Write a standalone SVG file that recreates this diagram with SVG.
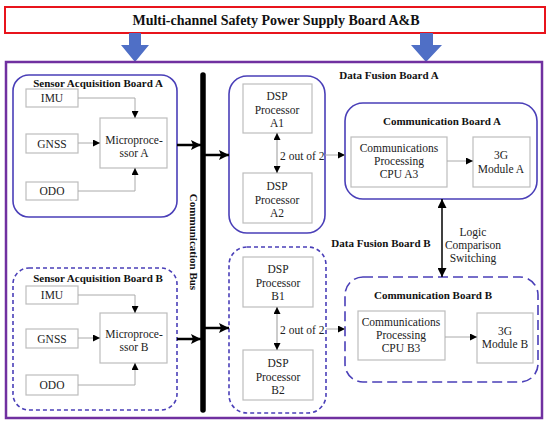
<svg xmlns="http://www.w3.org/2000/svg" width="550" height="427" viewBox="0 0 550 427" font-family="'Liberation Serif', 'Times New Roman', Times, serif">
<defs>
<marker id="ah" viewBox="0 0 10 10" refX="10" refY="5" markerWidth="7" markerHeight="7" markerUnits="userSpaceOnUse" orient="auto-start-reverse"><path d="M0,0 L10,5 L0,10 z" fill="#000"/></marker>
<marker id="ahb" viewBox="0 0 10 10" refX="10" refY="5" markerWidth="10" markerHeight="10" markerUnits="userSpaceOnUse" orient="auto"><path d="M0,0 L10,5 L0,10 L2,5 z" fill="#000"/></marker>
<marker id="ahd" viewBox="0 0 10 10" refX="10" refY="5" markerWidth="9" markerHeight="9" markerUnits="userSpaceOnUse" orient="auto-start-reverse"><path d="M0,0 L10,5 L0,10 z" fill="#000"/></marker>
</defs>
<style>
text{fill:#222;}
.t{font-size:11.5px;text-anchor:middle;}
.b{font-size:11px;font-weight:bold;text-anchor:middle;fill:#111;}
.box{fill:#fff;stroke:#bdbdbd;stroke-width:1.2;}
.brd{fill:none;stroke:#4a3fb8;stroke-width:1.6;}
.dsh{stroke-dasharray:4 3;}
.dsh2{stroke-dasharray:10 5;}
.c{fill:none;stroke:#aaa;stroke-width:1;marker-end:url(#ah);}
.cd{fill:none;stroke:#999;stroke-width:1;marker-start:url(#ah);marker-end:url(#ah);}
.k{fill:none;stroke:#000;stroke-width:2.5;marker-end:url(#ahb);}
</style>
<rect width="550" height="427" fill="#fff"/>
<g id="power">
<rect x="5" y="7" width="540" height="26" fill="#fff" stroke="#e8141c" stroke-width="2"/>
<text x="276" y="25" style="font-size:14px;font-weight:bold;text-anchor:middle;fill:#111;">Multi-channel Safety Power Supply Board A&amp;B</text>
</g>
<g id="supply-arrows" fill="#4f6fc6">
<path d="M129,33 H141 V45 H149 L135,62 L121,45 H129 Z"/>
<path d="M420,33 H433 V45 H442 L426,62 L411,45 H420 Z"/>
</g>
<g id="system">
<rect x="6" y="62" width="536" height="356" fill="none" stroke="#7030a0" stroke-width="2.5"/>
</g>
<g id="sensorA">
<rect class="brd" x="13" y="75" width="164" height="142" rx="16"/>
<text class="b" x="98" y="87">Sensor Acquisition Board A</text>
<rect class="box" x="26" y="89" width="52" height="18"/><text class="t" x="52" y="102">IMU</text>
<rect class="box" x="26" y="134" width="52" height="19"/><text class="t" x="52" y="148">GNSS</text>
<rect class="box" x="26" y="182" width="52" height="18"/><text class="t" x="52" y="195">ODO</text>
<rect class="box" x="100" y="118" width="67" height="50"/>
<text class="t" x="134" y="144">Microproce-</text><text class="t" x="134" y="157">ssor A</text>
</g>
<g id="sensorB">
<rect class="brd dsh" x="13" y="268" width="164" height="142" rx="16"/>
<text class="b" x="98" y="282">Sensor Acquisition Board B</text>
<rect class="box" x="26" y="286" width="52" height="18"/><text class="t" x="52" y="299">IMU</text>
<rect class="box" x="26" y="329" width="52" height="19"/><text class="t" x="52" y="343">GNSS</text>
<rect class="box" x="26" y="375" width="52" height="20"/><text class="t" x="52" y="389">ODO</text>
<rect class="box" x="100" y="313" width="67" height="50"/>
<text class="t" x="134" y="338">Microproce-</text><text class="t" x="134" y="351">ssor B</text>
</g>
<g id="bus">
<line x1="203" y1="75" x2="203" y2="410" stroke="#000" stroke-width="5.5" stroke-linecap="round"/>
<text x="190" y="242" transform="rotate(90 190 242)" style="font-size:11px;font-weight:bold;text-anchor:middle;fill:#111;">Communication Bus</text>
</g>
<g id="fusionA">
<rect class="brd" x="229" y="76" width="96" height="157" rx="18"/>
<text class="b" x="389" y="79">Data Fusion Board A</text>
<rect class="box" x="243" y="84" width="69" height="49"/>
<text class="t" x="277" y="100">DSP</text><text class="t" x="277" y="114">Processor</text><text class="t" x="277" y="127">A1</text>
<rect class="box" x="243" y="173" width="69" height="50"/>
<text class="t" x="277" y="190">DSP</text><text class="t" x="277" y="204">Processor</text><text class="t" x="277" y="217">A2</text>
<text x="280" y="160" style="font-size:11.5px;">2 out of 2</text>
</g>
<g id="fusionB">
<rect class="brd dsh" x="229" y="247" width="97" height="166" rx="18"/>
<text class="b" x="381" y="247">Data Fusion Board B</text>
<rect class="box" x="243" y="257" width="70" height="50"/>
<text class="t" x="278" y="273">DSP</text><text class="t" x="278" y="287">Processor</text><text class="t" x="278" y="300">B1</text>
<rect class="box" x="243" y="350" width="70" height="50"/>
<text class="t" x="278" y="367">DSP</text><text class="t" x="278" y="381">Processor</text><text class="t" x="278" y="394">B2</text>
<text x="280" y="334" style="font-size:11.5px;">2 out of 2</text>
</g>
<g id="commA">
<rect class="brd" x="345" y="103" width="192" height="96" rx="18"/>
<text class="b" x="442" y="125">Communication Board A</text>
<rect class="box" x="351" y="137" width="96" height="50"/>
<text class="t" x="399" y="152">Communications</text><text class="t" x="399" y="165">Processing</text><text class="t" x="399" y="178">CPU A3</text>
<rect class="box" x="473" y="137" width="57" height="50"/>
<text class="t" x="501" y="159">3G</text><text class="t" x="501" y="173">Module A</text>
</g>
<g id="commB">
<rect class="brd dsh2" x="345" y="277" width="193" height="105" rx="18"/>
<text class="b" x="433" y="299">Communication Board B</text>
<rect class="box" x="358" y="311" width="87" height="49"/>
<text class="t" x="401" y="326">Communications</text><text class="t" x="401" y="339">Processing</text><text class="t" x="401" y="352">CPU B3</text>
<rect class="box" x="477" y="313" width="56" height="50"/>
<text class="t" x="505" y="335">3G</text><text class="t" x="505" y="348">Module B</text>
</g>
<g id="logic-label">
<text class="t" x="473" y="236">Logic</text><text class="t" x="473" y="249">Comparison</text><text class="t" x="473" y="262">Switching</text>
</g>
<g id="connectors">
<path class="c" d="M78,98 H135 V118"/>
<path class="c" d="M78,143 H100"/>
<path class="c" d="M78,191 H135 V168"/>
<path class="c" d="M78,295 H135 V313"/>
<path class="c" d="M78,338 H100"/>
<path class="c" d="M78,385 H135 V363"/>
<path class="k" d="M177,145 H201"/>
<path class="k" d="M177,339 H201"/>
<path class="k" d="M205,155 H229"/>
<path class="k" d="M205,328 H229"/>
<path class="cd" d="M277,133 V173"/>
<path class="cd" d="M277,307 V350"/>
<path class="c" d="M325,155 H345"/>
<path class="c" d="M326,329 H345"/>
<path class="c" d="M447,161 H473"/>
<path class="c" d="M445,337 H477"/>
<path d="M442,199 V277" fill="none" stroke="#000" stroke-width="1.5" marker-start="url(#ahd)" marker-end="url(#ahd)"/>
</g>
</svg>
